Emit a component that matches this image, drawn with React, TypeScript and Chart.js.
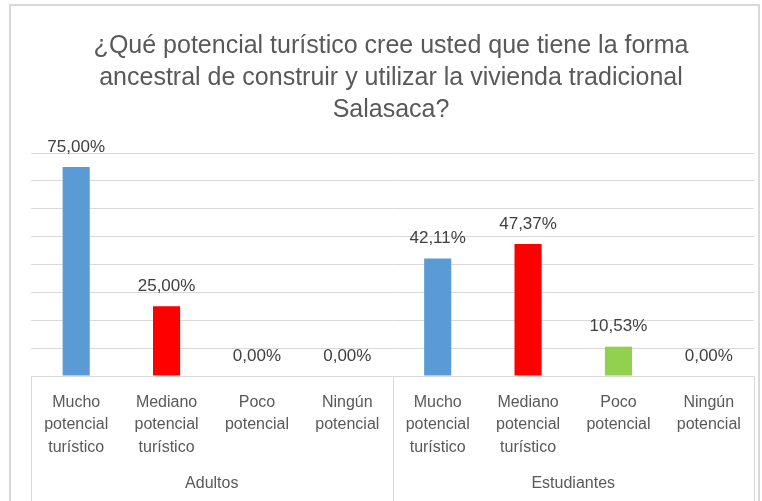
import React, { useEffect, useRef } from "react";
import { Chart, registerables } from "chart.js";

Chart.register(...registerables);

const titleLines = [
  "¿Qué potencial turístico cree usted que tiene la forma",
  "ancestral de construir y utilizar la vivienda tradicional",
  "Salasaca?",
];
const categoryLabels: string[][] = [
  ["Mucho", "potencial", "turístico"],
  ["Mediano", "potencial", "turístico"],
  ["Poco", "potencial"],
  ["Ningún", "potencial"],
  ["Mucho", "potencial", "turístico"],
  ["Mediano", "potencial", "turístico"],
  ["Poco", "potencial"],
  ["Ningún", "potencial"],
];
const groupLabels = ["Adultos", "Estudiantes"];
const groupSizes = [4, 4];
const values = [75.0, 25.0, 0.0, 0.0, 42.11, 47.37, 10.53, 0.0];
const barColors = ["#5B9BD5", "#FF0000", "#92D050", "#92D050", "#5B9BD5", "#FF0000", "#92D050", "#92D050"];
const yMax = 80;
const yStep = 10;

const FONT = "'Liberation Sans', Arial, sans-serif";
const TEXT_GRAY = "#595959";
const LINE_GRAY = "#D9D9D9";

const decorPlugin = {
  id: "decor",
  afterDraw(chart: any) {
    const ctx = chart.ctx;
    const area = chart.chartArea;
    const xs = chart.scales.x;
    ctx.save();
    // outer border
    ctx.strokeStyle = LINE_GRAY;
    ctx.lineWidth = 2;
    ctx.strokeRect(10, 5, 749, 520);
    // title
    ctx.fillStyle = TEXT_GRAY;
    ctx.font = `25px ${FONT}`;
    ctx.textAlign = "center";
    ctx.textBaseline = "middle";
    const titleYs = [46, 78, 110];
    titleLines.forEach((t, i) => ctx.fillText(t, 391, titleYs[i]));
    // group dividers and labels
    ctx.strokeStyle = LINE_GRAY;
    ctx.lineWidth = 1;
    const bottom = chart.height;
    let idx = 0;
    const boundaries: number[] = [area.left];
    groupSizes.forEach((n) => {
      idx += n;
      const b =
        idx >= values.length
          ? area.right
          : (xs.getPixelForValue(idx - 1) + xs.getPixelForValue(idx)) / 2;
      boundaries.push(b);
    });
    boundaries.forEach((bx) => {
      ctx.beginPath();
      ctx.moveTo(Math.round(bx) + 0.5, area.bottom);
      ctx.lineTo(Math.round(bx) + 0.5, bottom);
      ctx.stroke();
    });
    ctx.fillStyle = TEXT_GRAY;
    ctx.font = `16px ${FONT}`;
    groupLabels.forEach((g, i) => {
      const cx = (boundaries[i] + boundaries[i + 1]) / 2;
      ctx.fillText(g, cx, 484);
    });
    ctx.restore();
  },
  afterDatasetsDraw(chart: any) {
    const ctx = chart.ctx;
    const meta = chart.getDatasetMeta(0);
    ctx.save();
    ctx.fillStyle = "#404040";
    ctx.font = `17px ${FONT}`;
    ctx.textAlign = "center";
    ctx.textBaseline = "middle";
    meta.data.forEach((bar: any, i: number) => {
      const txt = values[i].toFixed(2).replace(".", ",") + "%";
      ctx.fillText(txt, bar.x, bar.y - 20);
    });
    ctx.restore();
  },
};

export default function App() {
  const ref = useRef<HTMLCanvasElement>(null);
  useEffect(() => {
    document.body.style.margin = "0";
    const chart = new Chart(ref.current!, {
      type: "bar",
      data: {
        labels: categoryLabels,
        datasets: [
          {
            data: values,
            backgroundColor: barColors,
            borderWidth: 0,
            barPercentage: 0.3,
            categoryPercentage: 1,
          },
        ],
      },
      options: {
        animation: false,
        responsive: false,
        events: [],
        layout: { padding: { top: 153, left: 31, right: 8, bottom: 0 } },
        plugins: {
          legend: { display: false },
          title: { display: false },
          tooltip: { enabled: false },
        },
        scales: {
          x: {
            grid: { display: false, drawTicks: false },
            border: { display: false },
            ticks: {
              color: TEXT_GRAY,
              font: { family: FONT, size: 16, lineHeight: 1.42 },
              padding: 15,
              maxRotation: 0,
              autoSkip: false,
            },
            afterFit(scale: any) {
              scale.height = 125;
            },
          },
          y: {
            min: 0,
            max: yMax,
            ticks: { display: false, stepSize: yStep },
            grid: { color: LINE_GRAY, lineWidth: 1, drawTicks: false },
            border: { display: false },
          },
        },
      },
      plugins: [decorPlugin],
    });
    return () => chart.destroy();
  }, []);
  return (
    <div style={{ position: "absolute", left: 0, top: 0, width: 762, height: 501, background: "#fff" }}>
      <canvas ref={ref} width={762} height={501} />
    </div>
  );
}
